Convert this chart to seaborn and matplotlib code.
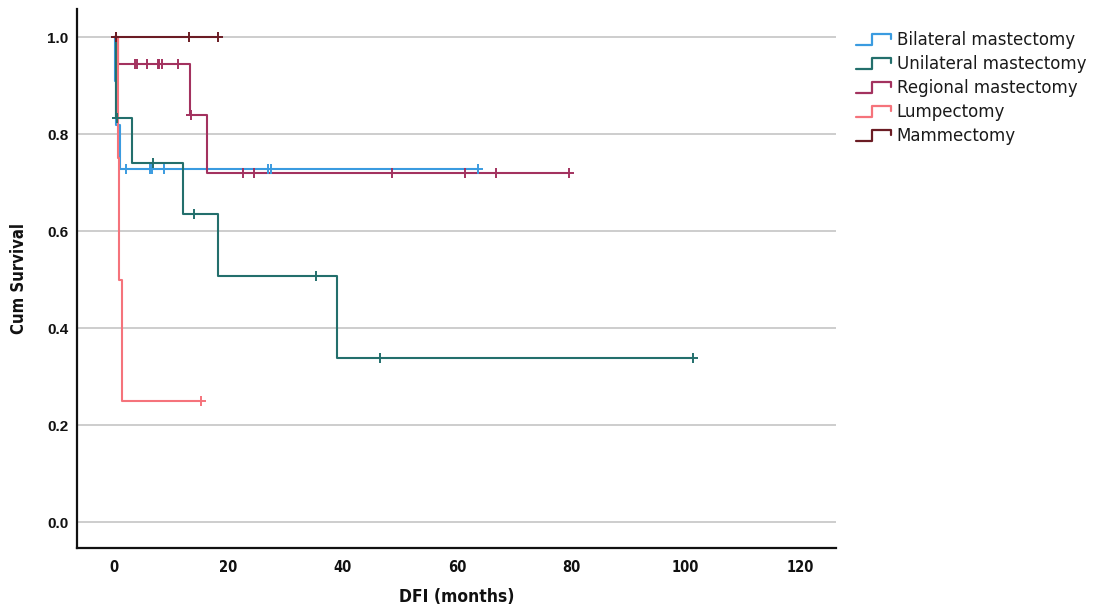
import matplotlib
matplotlib.use("Agg")
import matplotlib.pyplot as plt
from matplotlib import font_manager as fm
from matplotlib.legend_handler import HandlerBase
from matplotlib.lines import Line2D
import seaborn as sns
import pandas as pd

# Kaplan-Meier estimates: event times, survival after each event, censoring times
groups = ["Bilateral mastectomy", "Unilateral mastectomy", "Regional mastectomy",
          "Lumpectomy", "Mammectomy"]

bilateral_event_t = [0.1, 0.3, 1.0]
bilateral_surv = [0.909, 0.818, 0.727]
bilateral_censor_t = [2.1, 6.3, 6.7, 8.7, 27.0, 27.4, 63.6]

unilateral_event_t = [0.25, 3.2, 12.1, 18.1, 39.0]
unilateral_surv = [0.833, 0.741, 0.635, 0.508, 0.339]
unilateral_censor_t = [0.45, 6.8, 14.0, 35.3, 46.5, 101.3]

regional_event_t = [0.65, 13.3, 16.2]
regional_surv = [0.944, 0.840, 0.720]
regional_censor_t = [0.3, 3.7, 4.0, 5.8, 7.6, 7.9, 8.3, 11.1, 13.4, 22.5, 24.4,
                     48.6, 61.3, 66.8, 79.5]

lumpectomy_event_t = [0.6, 0.8, 1.4]
lumpectomy_surv = [0.75, 0.50, 0.25]
lumpectomy_censor_t = [15.2]

mammectomy_event_t = []
mammectomy_surv = []
mammectomy_censor_t = [0.4, 13.1, 18.1]

x_ticks = [0, 20, 40, 60, 80, 100, 120]
y_ticks = [0.0, 0.2, 0.4, 0.6, 0.8, 1.0]

colors = {
    "Bilateral mastectomy": "#3a9be0",
    "Unilateral mastectomy": "#236f6c",
    "Regional mastectomy": "#a3325f",
    "Lumpectomy": "#f5737b",
    "Mammectomy": "#6b1c24",
}

series = {
    "Bilateral mastectomy": (bilateral_event_t, bilateral_surv, bilateral_censor_t),
    "Unilateral mastectomy": (unilateral_event_t, unilateral_surv, unilateral_censor_t),
    "Regional mastectomy": (regional_event_t, regional_surv, regional_censor_t),
    "Lumpectomy": (lumpectomy_event_t, lumpectomy_surv, lumpectomy_censor_t),
    "Mammectomy": (mammectomy_event_t, mammectomy_surv, mammectomy_censor_t),
}


def surv_at(t, ev_t, ev_s):
    s = 1.0
    for et, es in zip(ev_t, ev_s):
        if et <= t:
            s = es
    return s


curve_rows, censor_rows = [], []
for g in groups:
    ev_t, ev_s, c_t = series[g]
    pts = [(0.0, 1.0)] + list(zip(ev_t, ev_s))
    end_t = max([p[0] for p in pts] + list(c_t))
    pts.append((end_t, pts[-1][1]))
    for t, s in pts:
        curve_rows.append({"group": g, "time": t, "surv": s})
    for t in c_t:
        censor_rows.append({"group": g, "time": t, "surv": surv_at(t, ev_t, ev_s)})

curves = pd.DataFrame(curve_rows)
censors = pd.DataFrame(censor_rows)

sns.set_theme(style="white")
plt.rcParams["font.family"] = ["DejaVu Sans"]

# narrow face for axis titles and x tick labels
fonts = fm.fontManager.ttflist
if any(f.name == "Liberation Sans Narrow" for f in fonts):
    narrow = dict(family="Liberation Sans Narrow")
elif any(f.name == "DejaVu Sans" and f.stretch == "condensed" for f in fonts):
    narrow = dict(family="DejaVu Sans", fontstretch="condensed")
else:
    narrow = dict(family="Liberation Sans")

fig = plt.figure(figsize=(10.99, 6.10), dpi=100)
ax = fig.add_axes([77 / 1099, 62 / 610, (836 - 77) / 1099, (548 - 9) / 610])

for y in y_ticks:
    ax.axhline(y, color="#c9c9c9", lw=1.3, zorder=0)

for g in groups:
    sub = curves[curves["group"] == g]
    sns.lineplot(data=sub, x="time", y="surv", ax=ax, color=colors[g],
                 drawstyle="steps-post", estimator=None, sort=False,
                 lw=1.5, legend=False, zorder=2)
    csub = censors[censors["group"] == g]
    sns.scatterplot(data=csub, x="time", y="surv", ax=ax, color=colors[g],
                    marker="+", s=55, linewidth=1.4, legend=False, zorder=3)

ax.set_xlim(-6.5, 126.3)
ax.set_ylim(-0.0536, 1.058)
ax.set_xticks(x_ticks)
ax.set_yticks(y_ticks)
ax.set_xticklabels([str(v) for v in x_ticks], fontweight="bold", fontsize=10.5, **narrow)
ax.set_yticklabels([f"{v:.1f}" for v in y_ticks], family="Liberation Sans",
                   fontweight="bold", fontsize=11)
ax.tick_params(axis="both", length=0, colors="#111111")
ax.tick_params(axis="x", pad=9)
ax.tick_params(axis="y", pad=6)

for side in ["top", "right"]:
    ax.spines[side].set_visible(False)
for side in ["left", "bottom"]:
    ax.spines[side].set_color("#111111")
    ax.spines[side].set_linewidth(1.6)

ax.set_xlabel("DFI (months)", fontweight="bold", fontsize=12.5, labelpad=9,
              color="#111111", **narrow)
ax.set_ylabel("Cum Survival", fontweight="bold", fontsize=12, labelpad=14,
              color="#111111", **narrow)


class StepHandler(HandlerBase):
    def create_artists(self, legend, orig_handle, xdescent, ydescent,
                       width, height, fontsize, trans):
        x0, y0 = -xdescent, -ydescent
        xs = [x0, x0 + 0.45 * width, x0 + 0.45 * width, x0 + width, x0 + width]
        ys = [y0, y0, y0 + height, y0 + height, y0 + 0.5 * height]
        line = Line2D(xs, ys, color=orig_handle.get_color(), lw=1.6)
        line.set_transform(trans)
        return [line]


handles = [Line2D([], [], color=colors[g]) for g in groups]
fig.legend(handles, groups, loc="upper left",
           bbox_to_anchor=(856 / 1099, (610 - 31) / 610),
           frameon=False, fontsize=12, borderpad=0, borderaxespad=0,
           handlelength=2.1, handleheight=0.65, handletextpad=0.35,
           labelspacing=0.36,
           handler_map={Line2D: StepHandler()},
           labelcolor="#1a1a1a")

fig.savefig("out.png", dpi=100)
